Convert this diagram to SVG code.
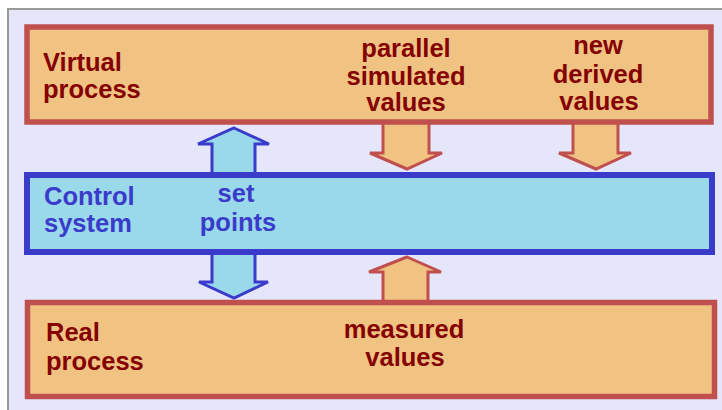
<svg xmlns="http://www.w3.org/2000/svg" width="722" height="410" viewBox="0 0 722 410">
  <style>
    .panel { fill: #E6E6FB; stroke: #9A9A9A; stroke-width: 2; }
    .proc { fill: #F0C383; stroke: #C0504D; stroke-width: 5.5; }
    .ctrl { fill: #99D9E9; stroke: #3B3BCB; stroke-width: 6; }
    .arrow-o { fill: #F0C383; stroke: #C0504D; stroke-width: 3; stroke-linejoin: miter; }
    .arrow-b { fill: #99D9E9; stroke: #3B3BCB; stroke-width: 3; stroke-linejoin: miter; }
    text { font-family: "Liberation Sans", Arial, sans-serif; font-weight: bold; font-size: 25.5px; }
    .red { fill: #850000; }
    .blue { fill: #3B3BCB; }
    .mid { text-anchor: middle; }
  </style>

  <rect width="722" height="410" fill="#FFFFFF"/>
  <rect class="panel" x="8" y="9" width="720" height="410"/>

  <g id="connectors">
    <!-- set points: control system -> virtual process -->
    <path class="arrow-b" d="M234,128 L269,144 L255,144 L255,174 L212,174 L212,144 L198,144 Z"/>
    <!-- set points: control system -> real process -->
    <path class="arrow-b" d="M212,250 L255,250 L255,282 L268,282 L234,298 L199,282 L212,282 Z"/>
    <!-- parallel simulated values -> control system -->
    <path class="arrow-o" d="M383,122 L429,122 L429,153 L442,153 L407,169 L370,153 L383,153 Z"/>
    <!-- new derived values -> control system -->
    <path class="arrow-o" d="M573,122 L618,122 L618,153 L631,153 L596,169 L559,153 L573,153 Z"/>
    <!-- measured values -> control system -->
    <path class="arrow-o" d="M407,257 L441,272 L428,272 L428,302 L383,302 L383,272 L369,272 Z"/>
  </g>

  <g id="virtual-process">
    <rect class="proc" x="27" y="27" width="684" height="95"/>
    <text class="red" x="43" y="71">Virtual</text>
    <text class="red" x="43" y="98">process</text>
    <text class="red mid" x="406" y="57">parallel</text>
    <text class="red mid" x="406" y="85">simulated</text>
    <text class="red mid" x="406" y="111">values</text>
    <text class="red mid" x="598" y="54">new</text>
    <text class="red mid" x="598" y="83">derived</text>
    <text class="red mid" x="599" y="110">values</text>
  </g>

  <g id="control-system">
    <rect class="ctrl" x="27" y="175" width="685" height="77"/>
    <text class="blue" x="44" y="205">Control</text>
    <text class="blue" x="44" y="232">system</text>
    <text class="blue mid" x="236" y="202">set</text>
    <text class="blue mid" x="238" y="231">points</text>
  </g>

  <g id="real-process">
    <rect class="proc" x="27.5" y="302.5" width="687" height="94"/>
    <text class="red" x="46" y="341">Real</text>
    <text class="red" x="46" y="370">process</text>
    <text class="red mid" x="404" y="338">measured</text>
    <text class="red mid" x="405" y="366">values</text>
  </g>
</svg>
